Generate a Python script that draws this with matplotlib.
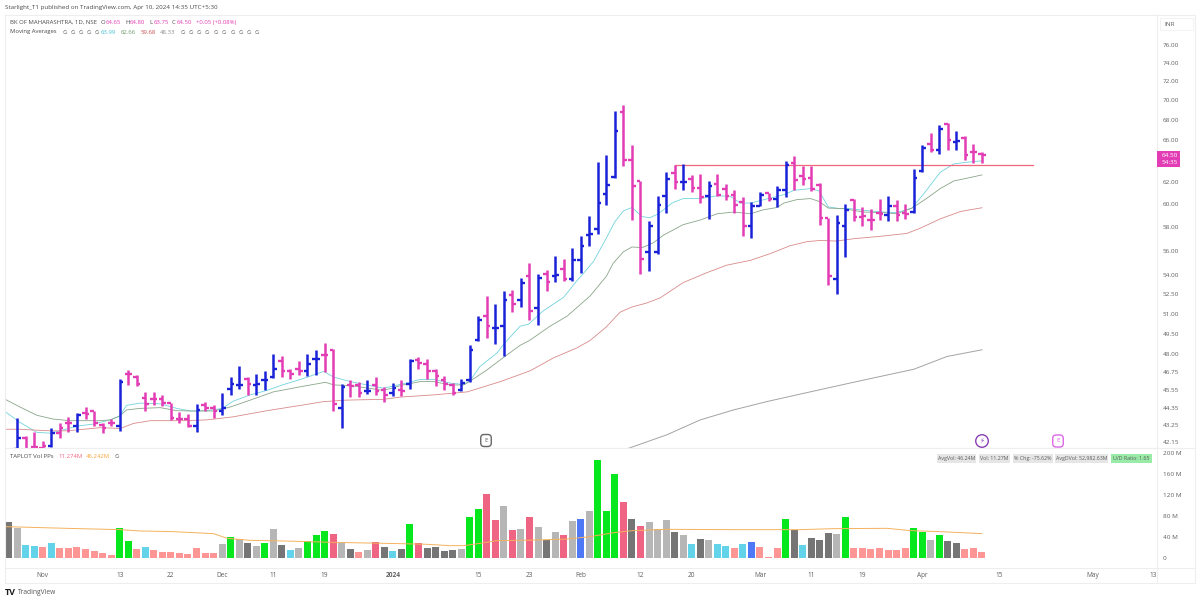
import matplotlib
matplotlib.use('Agg')
import matplotlib.pyplot as plt
from matplotlib.patches import Rectangle
from matplotlib.ticker import FixedLocator, FuncFormatter, NullLocator

plt.rcParams['font.family'] = ['Open Sans', 'DejaVu Sans']

##################################################################
# DATA
##################################################################
opens = [41.3,41.7,42.4,41.85,41.8,41.9,42.7,43.32,43.18,44.03,
         44.15,43.2,43.37,43.15,46.6,46.4,45.0,44.9,44.9,44.65,
         43.6,43.6,43.15,44.5,44.3,44.15,45.6,45.87,46.25,45.9,
         46.2,46.4,47.5,46.85,46.95,46.85,47.65,47.95,48.3,44.35,
         45.87,45.87,45.48,45.87,45.5,45.3,45.5,45.95,47.6,47.35,
         46.8,46.2,45.87,45.5,46.2,49.03,50.85,49.9,50.05,52.45,
         52.05,53.95,51.4,54.1,53.95,54.45,53.7,55.25,57.3,57.8,
         60.9,62.45,68.8,64.1,62.1,55.85,55.85,60.7,62.8,62.05,
         62.25,61.45,60.75,61.85,61.4,60.8,60.15,58.1,59.85,61.0,
         60.5,61.25,63.8,62.6,62.35,61.75,58.75,53.65,58.1,60.4,
         58.9,58.6,59.25,59.0,59.85,59.25,59.3,63.0,65.65,65.05,
         67.55,65.85,66.2,64.85,64.65]
highs = [41.6,43.67,42.5,42.77,42.2,43.0,43.32,43.75,44.03,44.41,
         44.15,43.32,43.58,46.25,46.9,46.55,45.4,45.4,45.2,44.65,
         44.08,43.93,44.6,44.7,44.5,45.35,46.4,47.15,46.4,46.65,
         46.8,48.05,47.9,47.0,47.5,48.0,48.35,48.83,48.42,45.95,
         46.2,46.1,46.2,46.4,45.7,46.0,46.2,47.65,47.8,47.65,
         47.0,46.45,46.0,46.3,48.7,50.85,52.35,51.7,52.75,52.85,
         53.8,54.95,54.1,54.4,55.55,55.3,56.2,57.25,58.95,63.9,
         64.55,68.95,69.5,65.5,62.1,58.55,60.7,62.9,63.6,63.7,
         62.65,62.75,62.1,62.75,61.85,61.3,60.6,60.15,61.05,61.0,
         61.6,63.95,64.45,63.5,63.5,61.9,58.75,59.05,60.0,60.45,
         59.75,59.55,60.45,60.75,60.4,60.0,63.2,65.55,66.66,67.45,
         67.7,66.9,66.35,65.65,64.8]
lows = [40.9,41.4,41.4,41.8,41.7,41.85,42.4,42.75,42.75,43.58,
        43.15,42.72,43.15,42.85,45.87,45.83,44.15,44.5,44.45,43.55,
        43.32,43.1,42.8,44.15,43.65,43.9,45.2,45.6,45.2,45.2,
        45.5,46.35,46.4,46.25,46.55,46.5,46.55,46.75,44.15,43.0,
        45.08,45.08,45.25,45.2,44.75,45.1,45.1,45.58,47.0,46.3,
        45.83,45.5,45.2,45.45,46.1,48.98,49.15,48.75,47.9,51.15,
        51.5,50.55,50.15,52.75,53.45,53.5,53.5,54.2,56.4,57.4,
        59.95,62.35,63.45,58.6,54.1,54.3,55.75,59.25,61.35,61.3,
        61.05,60.1,58.65,60.75,60.35,59.2,57.25,57.1,59.8,60.3,
        59.75,60.65,61.25,61.7,61.2,58.2,53.2,52.5,55.5,58.5,
        58.05,57.7,58.6,58.5,58.55,58.7,59.25,62.9,64.8,64.65,
        65.05,65.0,64.05,63.75,63.75]
closes = [41.3,42.4,41.6,41.85,41.9,42.7,43.0,43.32,43.85,43.93,
          43.32,43.05,43.37,46.1,46.65,45.95,44.6,44.9,44.65,43.7,
          43.6,43.15,44.2,44.3,44.15,44.3,45.95,45.87,45.95,45.95,
          46.2,47.0,46.85,46.6,46.8,47.3,47.65,47.95,44.6,45.75,
          45.83,45.3,45.48,45.45,45.2,45.65,45.48,47.5,47.4,46.85,
          46.45,45.95,45.3,46.0,48.3,50.5,50.05,49.9,52.05,51.7,
          53.4,51.2,53.8,53.45,54.0,53.7,55.25,56.4,57.4,60.1,
          61.75,66.9,64.05,61.6,55.3,58.05,59.95,62.25,62.05,62.05,
          61.45,60.6,61.65,60.8,60.7,59.95,58.05,59.8,60.85,60.5,
          61.25,63.6,62.15,62.3,61.35,58.75,53.9,58.35,59.45,58.9,
          58.95,58.6,59.15,59.85,59.05,59.15,62.4,65.25,65.05,67.05,
          66.0,65.9,64.55,64.85,64.5]
bar_kinds = ("bbmmmbmmbm" "mmmbmmmmmm" "mmbmmbbbmb" "bbmmmbbmmb" "mmbmmbmbmm" "mmmbbbmbbm"
             "bmbmbmbbbb" "bbmmmbbbmb" "mmbmmmmbbm" "bbmmmmmbbm" "mmmbmmbbmb" "mbmmm")

volumes = [67.7,57,24.7,22.8,20.3,29,19,18.4,20.3,16.5,
           14,10,5,56.3,33,17.7,21.5,15.2,10.8,11.4,
           8.9,8.2,18.4,10,8.9,26,40,36.7,27.8,22,
           28.5,54.4,24.7,15.2,19,31.6,43,51.9,45.6,29,
           16.5,10.8,15.2,31,20.9,14,17.7,64,27.8,19,
           20.9,13.3,15.2,17,78.5,93.7,120.9,72,98.7,52.5,
           55.7,77,59.5,34,49.4,43.7,71,74,88.6,185.4,
           89.9,160,106,74,60.8,69,54.4,72.8,49.4,43,
           26.6,35.4,33.5,26.6,22.8,19.6,26.6,30.4,20.3,1.9,
           19.6,74.7,53.2,24.7,37.3,33.5,46.8,46.2,77.8,19.6,
           19.6,16.5,19,15.8,15.8,18.4,57.6,50,33.5,43.7,
           32.3,29,17.7,19,11.274]
vol_kinds = ("DLccscssss" "sssggscsss" "sssssLgLDL" "gLDcLgggrL" "DsLrDcDgrD" "DDDLggrrLr"
             "LrLDLrLbLg" "ggrDrLLLDL" "cDLccscbss" "sgDcDDDLgs" "ssssssggLg" "DDsss")

ma1_idx = [-0.4,1.3,3.3,4.9,6,8,9.9,11.9,13,13.8,15.4,17.75,19.7,21.3,23.2,25,26.3,28.3,30.25,32.2,34.2,36.9,38.1,40,43.9,
           46.2,48.2,49.8,51.7,53.3,54.1,55.2,57.2,58,59.9,60.9,62.6,65,66.5,68.5,70,71,72,73,74.2,75.1,76.1,77.7,79,81,83,84.5,85.7,86.9,
           90.8,92,93.9,94.9,96,97.4,98.6,100.1,102.5,104,105.8,107.2,109.1,110.7,112.2,114]
ma1_val = [44.08,43.4,42.75,42.7,42.85,43.15,43.28,43.55,43.8,44.5,44.65,44.6,44.3,44.13,44.15,44.3,44.78,45.2,45.5,45.9,46.25,46.8,46.4,46.1,45.65,
           45.95,46.25,46.25,46.0,45.9,46.2,47.15,48.1,48.75,50.05,50.2,51.2,52.25,53.5,55.1,57.05,58.45,59.4,59.7,58.9,58.8,59.15,60.1,60.5,60.5,60.75,60.7,60.1,60.1,
           60.85,61.25,61.4,61.2,59.75,59.6,59.6,59.45,59.3,59.25,59.65,60.95,62.9,63.7,63.85,63.99]
ma2_idx = [-0.4,1.3,3.3,5.25,7.2,10.7,11.9,13,13.8,15.4,17.75,19.7,21.7,24,26,28.3,31,34.2,37.1,38.1,40,43.9,
           46.2,48.2,49.8,51.7,53.3,54.1,56,58,59.9,61,63.4,65.4,68.1,70,70.8,72,73,74.2,75.5,76.7,79,81,83,84.9,86.9,
           88.4,90,90.8,92.3,93.9,94.9,96,97.8,100.1,102.5,104,105.8,107.5,109.1,110.7,112.2,114]
ma2_val = [44.9,44.4,43.85,43.6,43.5,43.5,43.55,43.8,44.2,44.3,44.35,44.15,44.13,44.13,44.4,44.85,45.4,45.75,46.05,45.87,45.83,45.5,
           45.87,46.1,46.1,45.87,45.87,46.15,46.9,47.8,48.65,49.0,50.05,50.8,52.35,53.9,54.95,55.9,56.3,56.25,56.65,57.3,58.2,58.6,59.15,59.3,59.15,
           59.5,59.7,60.1,60.4,60.5,60.25,59.65,59.6,59.3,59.25,59.15,59.65,60.5,61.4,62.1,62.35,62.66]
ma3_idx = [-0.4,1.3,2.9,4.9,6.8,8.8,10.7,13.1,14.6,16.6,18.5,20.5,23.2,26.3,30.25,34.2,36.9,39.6,43.9,
           45.85,49.8,53.7,57.6,61.1,63.8,66.5,68.1,70,71.6,73,74.7,76.3,79,81.8,84.1,86.9,
           89.2,91.5,93.5,95.05,97,99,102.1,105.2,106.8,109.1,111.5,114]
ma3_val = [42.95,42.95,42.9,42.85,42.85,42.95,43.05,43.0,43.32,43.5,43.5,43.5,43.55,43.75,44.15,44.5,44.75,44.85,44.9,
           45.05,45.2,45.4,46.1,46.85,47.75,48.45,49.0,50.0,51.1,51.5,51.8,52.2,53.4,54.2,54.8,55.2,
           55.75,56.4,56.75,56.85,56.8,57.0,57.2,57.45,57.9,58.7,59.35,59.68]
ma4_idx = [72.6,77.1,81,84.9,88.8,92.7,96.6,100.5,106,109.9,114]
ma4_val = [41.75,42.6,43.55,44.2,44.75,45.25,45.75,46.25,46.95,47.85,48.33]

vol_avg_idx = [-0.4,6.8,13.1,15.4,19.3,24,25.6,28.3,32.2,38.1,45.9,49,51.7,53.3,55.2,57.2,61.5,65.4,68.1,70.85,73.2,77.1,84.9,92.7,96.6,102.9,105.6,109.1,114]
vol_avg_val = [59.5,56.3,53.8,51.3,50,46.2,37.3,33.5,32.3,29.7,27.2,26,23.4,23.4,27.8,33,34,36,40.5,48,52,54.4,53.8,53.8,55.7,56.3,52,50,46.242]

resistance_idx = [78, 120]
resistance_val = [63.55, 63.55]

price_ticks = [76,74,72,70,68,66,62,60,58,56,54,52.5,51,49.5,48,46.75,45.55,44.35,43.25,42.15]
vol_ticks = [0,40,80,120,160,200]
vol_tick_labels = ['0','40 M','80 M','120 M','160 M','200 M']
date_idx = [4,13,19,25,31,37,45,55,61,67,74,80,88,94,100,107,116,127,134]
date_labels = ['Nov','13','22','Dec','11','19','2024','15','23','Feb','12','20','Mar','11','19','Apr','15','May','13']

##################################################################
# COLOURS
##################################################################
BAR_COL = {'b': '#1a22d8', 'm': '#e23db4'}
VOL_COL = {'g': '#06e71e', 'L': '#b6b6b6', 'D': '#757575', 'c': '#63d3e9',
           's': '#ff9696', 'r': '#ee6482', 'b': '#4f78f6'}
LINE_GREY = '#eeeeee'
TEXT_GREY = '#5f5f5f'
HEAD_GREY = '#4a4a4a'

##################################################################
# FIGURE AND PANES
##################################################################
W, H = 1200, 602
fig = plt.figure(figsize=(W/100, H/100), dpi=100)

def pane(left, top, right, bottom):
    return fig.add_axes([left/W, 1-bottom/H, (right-left)/W, (bottom-top)/H])

def px(x, y):
    return x/W, 1-y/H

def label(x, y, s, color=TEXT_GREY, size=4.3, **kw):
    kw.setdefault('va', 'center')
    return fig.text(*px(x, y), s, color=color, fontsize=size, **kw)

ax1 = pane(5, 15, 1157, 448)
ax2 = pane(5, 448, 1157, 568)
xlim = (-0.43, 134.5)

##################################################################
# PRICE PANE
##################################################################
idx = list(range(len(opens)))
bar_cols = [BAR_COL[k] for k in bar_kinds]
TICK = 0.42
ax1.vlines(idx, lows, highs, colors=bar_cols, linewidth=1.8, zorder=3)
ax1.hlines(opens, [i-TICK for i in idx], idx, colors=bar_cols, linewidth=1.7, zorder=3)
ax1.hlines(closes, idx, [i+TICK for i in idx], colors=bar_cols, linewidth=1.7, zorder=3)

ax1.plot(ma1_idx, ma1_val, color='#72d3dd', linewidth=0.6)
ax1.plot(ma2_idx, ma2_val, color='#8aa58a', linewidth=0.6)
ax1.plot(ma3_idx, ma3_val, color='#d98a8a', linewidth=0.6)
ax1.plot(ma4_idx, ma4_val, color='#a3a3a3', linewidth=0.7)
ax1.plot(resistance_idx, resistance_val, color='#f0667c', linewidth=0.9)

ax1.set_yscale('log')
ax1.set_ylim(41.77, 79.46)
ax1.set_xlim(*xlim)
ax1.yaxis.tick_right()
ax1.yaxis.set_major_locator(FixedLocator(price_ticks))
ax1.yaxis.set_minor_locator(NullLocator())
ax1.yaxis.set_major_formatter(FuncFormatter(lambda v, p: '%.2f' % v))
ax1.tick_params(axis='y', length=0, pad=4, labelsize=4.6, labelcolor=TEXT_GREY)
ax1.set_xticks([])

##################################################################
# VOLUME PANE
##################################################################
ax2.bar(idx, volumes, width=0.82, color=[VOL_COL[k] for k in vol_kinds])
ax2.plot(vol_avg_idx, vol_avg_val, color='#f5b25e', linewidth=0.7)
ax2.set_ylim(-19, 208.8)
ax2.set_xlim(*xlim)
ax2.yaxis.tick_right()
ax2.set_yticks(vol_ticks)
ax2.set_yticklabels(vol_tick_labels)
ax2.tick_params(axis='y', length=0, pad=4, labelsize=4.6, labelcolor=TEXT_GREY)
ax2.set_xticks(date_idx)
ax2.set_xticklabels(date_labels)
ax2.tick_params(axis='x', length=0, pad=3, labelsize=4.7, labelcolor=TEXT_GREY)
ax2.get_xticklabels()[6].set_fontweight('bold')

for ax in (ax1, ax2):
    for side in ax.spines:
        ax.spines[side].set_color(LINE_GREY)
        ax.spines[side].set_linewidth(0.8)

# frame round the axis strips
for x0, y0, x1, y1 in [(5, 568, 5, 583), (5, 583, 1195, 583), (1195, 15, 1195, 583),
                       (1157, 15, 1195, 15), (1157, 448, 1195, 448), (1157, 568, 1195, 568),
                       (1157, 568, 1157, 583)]:
    fig.add_artist(plt.Line2D([x0/W, x1/W], [1-y0/H, 1-y1/H], color=LINE_GREY, linewidth=0.8))

##################################################################
# HEADER TEXT
##################################################################
label(5, 8, 'Starlight_T1 published on TradingView.com, Apr 10, 2024 14:35 UTC+5:30', size=4.5, color=HEAD_GREY)
label(10, 22.5, 'BK OF MAHARASHTRA, 1D, NSE', color=HEAD_GREY)
for x, s in [(101, 'O'), (125, 'H'), (149.5, 'L'), (172, 'C')]:
    label(x, 22.5, s, color=HEAD_GREY)
for x, s in [(105.5, '64.65'), (129.5, '64.80'), (153.5, '63.75'), (176.5, '64.50'), (196, '+0.05 (+0.08%)')]:
    label(x, 22.5, s, color='#e23db4')
label(10, 32, 'Moving Averages', color=HEAD_GREY, size=4.2)
for x in [62.7, 71, 79, 86.7, 95, 181, 189, 197, 205, 214, 222, 231, 239, 247, 255]:
    label(x, 32, '∅', color=HEAD_GREY, size=3.8)
for x, s, c in [(101, '63.99', '#45bfd0'), (121, '62.66', '#6a9a6a'), (141, '59.68', '#c94f4f'), (160, '48.33', '#8c8c8c')]:
    label(x, 32, s, color=c)

label(10, 456.5, 'TAPLOT Vol PPs', color=HEAD_GREY)
label(58, 456.5, '11.274M', color='#ee6482')
label(86, 456.5, '46.242M', color='#f5a63c')
label(115, 456.5, '∅', color=HEAD_GREY, size=3.8)

##################################################################
# AXIS BADGES, TABLE, EVENT ICONS, LOGO
##################################################################
fig.add_artist(Rectangle((1160/W, 1-30/H), 33/W, 12/H, transform=fig.transFigure,
                         facecolor='white', edgecolor='#eeeeee', linewidth=0.5))
label(1164, 24, 'INR', size=4.6)

fig.add_artist(Rectangle((1157/W, 1-167/H), 23/W, 16/H, transform=fig.transFigure,
                         facecolor='#e23db4', edgecolor='none'))
label(1161.5, 155.3, '64.50', color='white', size=4.6)
label(1161.5, 162.5, '54:35', color='white', size=4.6)

for x0, x1, s, bg in [(937, 976, 'AvgVol: 46.24M', '#e6e6e6'), (979, 1010, 'Vol: 11.27M', '#e6e6e6'),
                      (1013, 1053, '% Chg: -75.62%', '#e6e6e6'), (1055, 1108, 'AvgDVol: 52,982.63M', '#e6e6e6'),
                      (1111, 1152, 'U/D Ratio: 1.65', '#98eca8')]:
    fig.add_artist(Rectangle((x0/W, 1-463/H), (x1-x0)/W, 9/H, transform=fig.transFigure,
                             facecolor=bg, edgecolor='none'))
    label((x0+x1)/2, 458.5, s, size=3.8, ha='center', color='#5a5a5a')

label(486, 440.5, 'E', color='#666666', size=4.6, ha='center',
      bbox=dict(boxstyle='round,pad=0.55', facecolor='white', edgecolor='#666666', linewidth=1))
label(982, 441, '⚡', color='#8a3fb5', size=5, ha='center',
      bbox=dict(boxstyle='circle,pad=0.4', facecolor='white', edgecolor='#8a3fb5', linewidth=1))
label(1058, 441, 'E', color='#dd66e6', size=4.6, ha='center',
      bbox=dict(boxstyle='round,pad=0.55', facecolor='white', edgecolor='#dd66e6', linewidth=1))

label(5, 592.5, 'TV', color='#1c1c1c', size=6.5, fontweight='bold')
label(18, 592.5, 'TradingView', color='#555555', size=4.8)

fig.savefig('out.png', dpi=100)
